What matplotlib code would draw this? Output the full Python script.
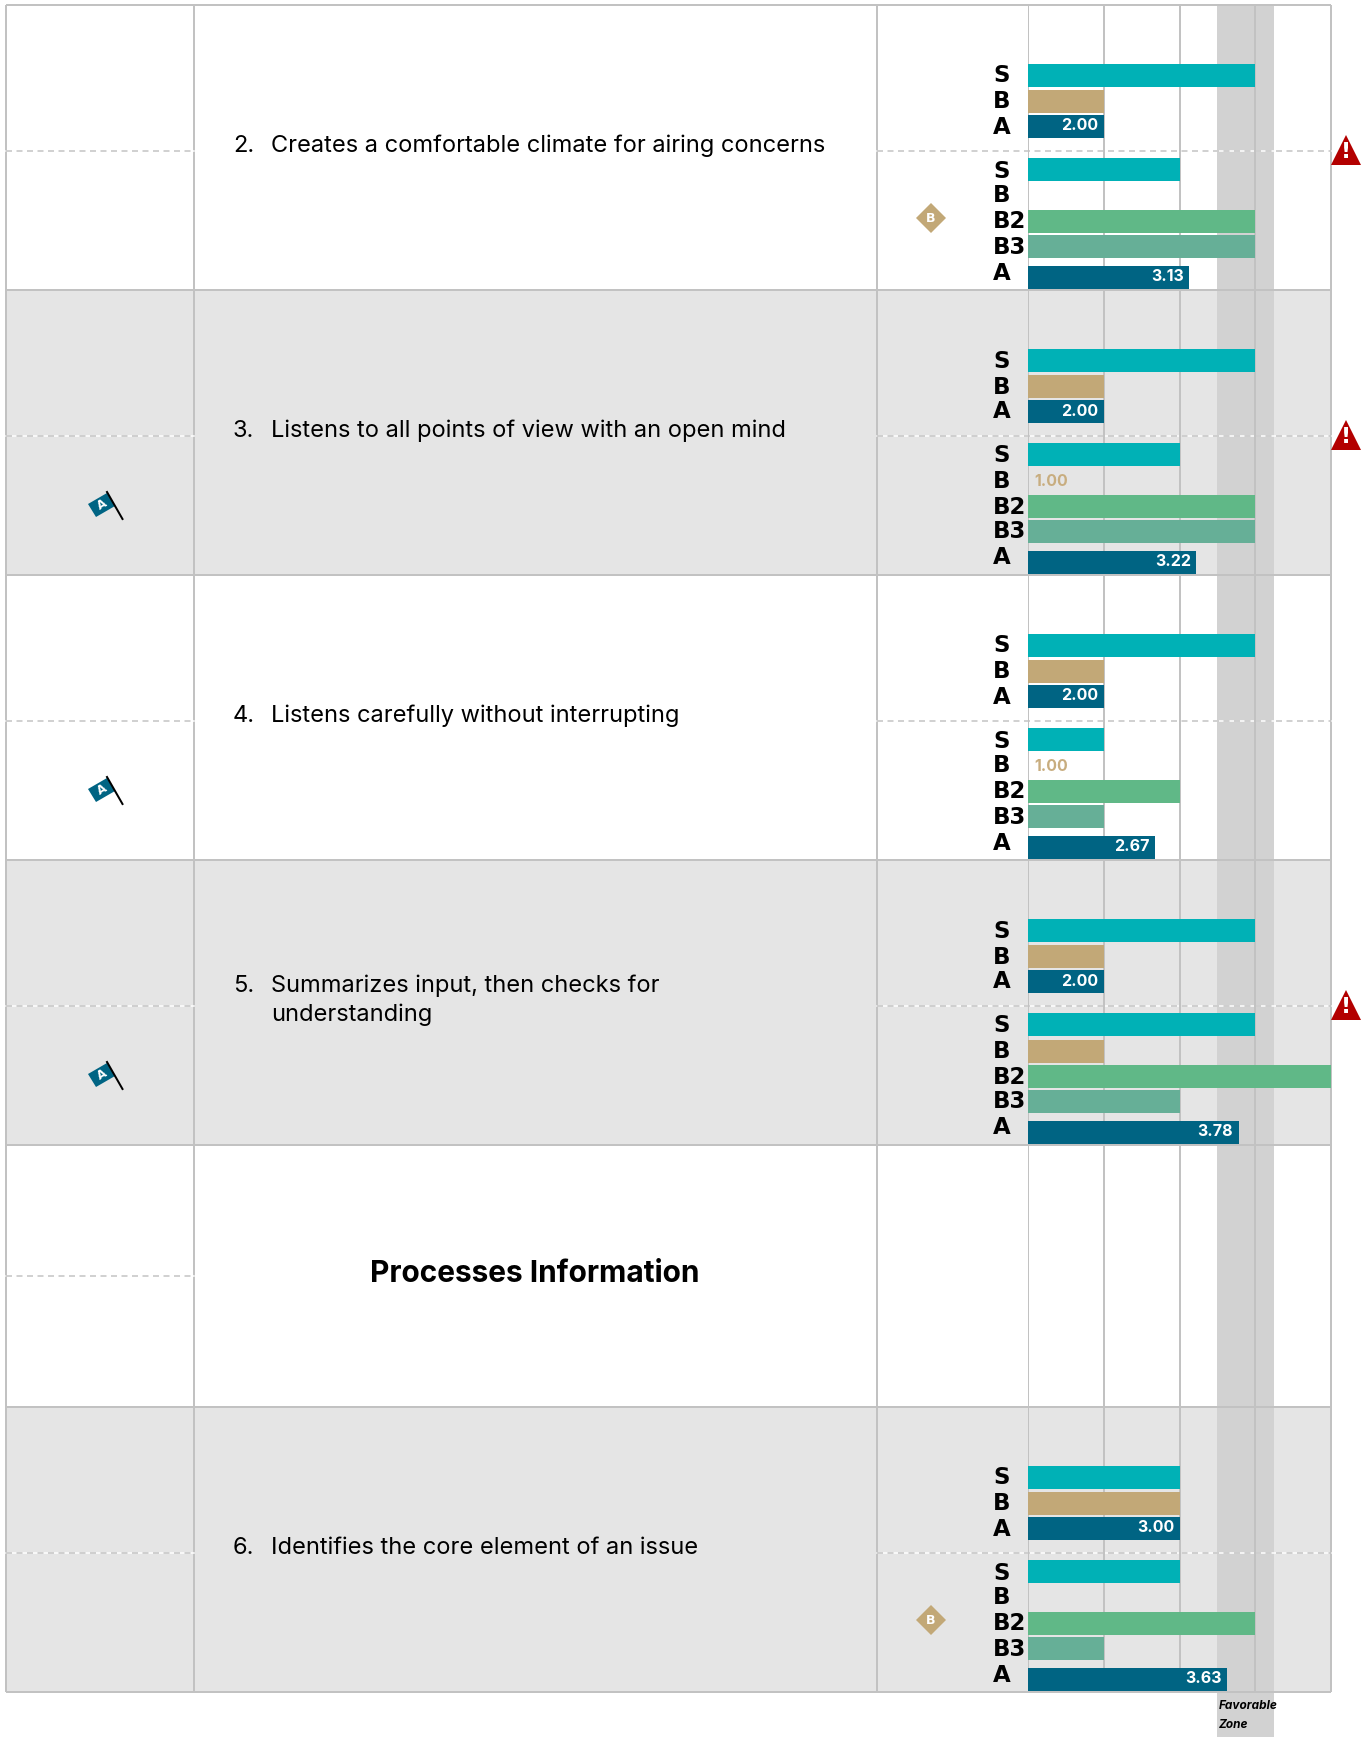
import matplotlib
matplotlib.use('Agg')
import matplotlib.pyplot as plt
from matplotlib.patches import Polygon

# scores per item, None = no bar
items = ["Creates a comfortable climate for airing concerns",
         "Listens to all points of view with an open mind",
         "Listens carefully without interrupting",
         "Summarizes input, then checks for\nunderstanding",
         "Identifies the core element of an issue"]
numbers = ["2.", "3.", "4.", "5.", "6."]
group_labels = ["S", "B", "A", "S", "B", "B2", "B3", "A"]
self_top = [4, 4, 4, 4, 3]
boss_top = [2, 2, 2, 2, 3]
avg_top = [2.00, 2.00, 2.00, 2.00, 3.00]
self_low = [3, 3, 2, 4, 3]
boss_low = [None, 1.00, 1.00, 2, None]
boss2_low = [4, 4, 3, 5, 4]
boss3_low = [4, 4, 2, 3, 2]
avg_low = [3.13, 3.22, 2.67, 3.78, 3.63]
warning = [True, True, False, True, False]
flag = [False, True, True, True, False]
diamond = [True, False, False, False, True]
section_title = "Processes Information"

W, H = 1368, 1737
LINE = '#c2c2c2'
GREY = '#e5e5e5'
ZONE = '#d2d2d2'
C_S, C_B, C_B2, C_B3, C_A = '#00b1b6', '#c2a877', '#60b887', '#66af97', '#006483'
TXT = 'Inter'
px = 0.72  # one pixel in points at dpi 100

row_tops = [5, 290, 575, 860, 1407]
row_bots = [289, 574, 859, 1144, 1691]
bar_off = [-213.5, -187.5, -162.5, -119.5, -93, -67.5, -42.5, -12]
lab_off = [-213, -187, -162, -118, -93, -67, -42, -16]

fig = plt.figure(figsize=(W / 100, H / 100), dpi=100)
bg = fig.add_axes([0, 0, 1, 1])
bg.set_xlim(0, W)
bg.set_ylim(H, 0)
bg.axis('off')

# table background
for y0, y1 in [(290, 575), (860, 1145), (1407, 1692)]:
    bg.fill_between([6, 1331], y0, y1, color=GREY, lw=0, zorder=1)
bg.fill_between([1217, 1274], 5, H, color=ZONE, lw=0, zorder=2)

for y in [5, 290, 575, 860, 1145, 1407, 1692]:
    bg.plot([6, 1331], [y, y], color=LINE, lw=2 * px, zorder=3, solid_capstyle='butt')
for x in [6, 194, 877, 1331]:
    bg.plot([x, x], [5, 1692], color=LINE, lw=2 * px, zorder=3, solid_capstyle='butt')

# dashed mid lines
for y, x0, x1 in [(151, 6, 194), (151, 877, 1331), (436, 6, 194), (436, 877, 1331),
                  (721, 6, 194), (721, 877, 1331), (1006, 6, 194), (1006, 877, 1331),
                  (1276, 6, 194), (1553, 6, 194), (1553, 877, 1331)]:
    bg.plot([x0, x1], [y, y], color='white', lw=1.5 * px, zorder=3)
    bg.plot([x0, x1], [y, y], color=LINE, lw=1.5 * px, zorder=3, dashes=(4, 3))

# chart axes share the pixel y scale, x is the score
ax = fig.add_axes([1028 / W, 0, (1331 - 1028) / W, 1])
ax.set_xlim(1, 5)
ax.set_ylim(H, 0)
ax.axis('off')
ax.patch.set_alpha(0)
ax.vlines([1, 2, 3, 4, 5], 5, 1692, color=LINE, lw=2 * px, zorder=3)
ax.vlines([1, 2, 3, 4, 5][3], 1692, 1692, color=LINE)

colors = [C_S, C_B, C_A, C_S, C_B, C_B2, C_B3, C_A]
for i in range(len(items)):
    bot = row_bots[i]
    vals = [self_top[i], boss_top[i], avg_top[i], self_low[i], boss_low[i],
            boss2_low[i], boss3_low[i], avg_low[i]]
    for j, v in enumerate(vals):
        yc = bot + bar_off[j]
        bg.text(993, bot + lab_off[j], group_labels[j], fontsize=16.5, fontweight='bold',
                family='DejaVu Sans', va='center', ha='left', color='black', zorder=6)
        if v is None:
            continue
        if v == 1:
            ax.text(1.08, yc + 0.5, "%.2f" % v, color='#c8ad7f', fontsize=11.5,
                    fontweight='bold', family=TXT, va='center', ha='left', zorder=6)
            continue
        ax.barh(yc, v - 1, left=1, height=23, color=colors[j], lw=0, zorder=4)
        if j in (2, 7):
            ax.text(v - 0.07, yc - 0.5, "%.2f" % v, color='white', fontsize=11.5,
                    fontweight='bold', family=TXT, va='center', ha='right', zorder=6)

    # item text
    mid = (row_tops[i] + row_bots[i]) / 2
    ty = {0: 146, 1: 431, 2: 716, 3: 1000, 4: 1548}[i]
    if i == 3:
        bg.text(233, 986, numbers[i], fontsize=17, family=TXT, va='center', zorder=6)
        bg.text(271, 986, items[i].split("\n")[0], fontsize=17, family=TXT, va='center', zorder=6)
        bg.text(271, 1015, items[i].split("\n")[1], fontsize=17, family=TXT, va='center', zorder=6)
    else:
        bg.text(233, ty, numbers[i], fontsize=17, family=TXT, va='center', zorder=6)
        bg.text(271, ty, items[i], fontsize=17, family=TXT, va='center', zorder=6)

    if warning[i]:
        yw = row_tops[i] + 146
        bg.add_patch(Polygon([(1331, yw + 14), (1346, yw - 16), (1361, yw + 14)],
                             fc='#b30000', ec='none', zorder=7, clip_on=False))
        bg.text(1346, yw + 1, "!", color='white', fontsize=16, fontweight='bold',
                family='DejaVu Sans', ha='center', va='center', zorder=8)
    if flag[i]:
        yf = row_tops[i] + 214
        bg.add_patch(Polygon([(88, yf), (107, yf - 11), (115, yf + 2), (96, yf + 13)],
                             fc=C_A, ec='none', zorder=7))
        bg.plot([107, 122.5], [yf - 12, yf + 15], color='black', lw=2 * px, zorder=8)
        bg.text(102, yf + 1, "A", color='white', fontsize=8.5, fontweight='bold', rotation=30,
                family='DejaVu Sans', ha='center', va='center', zorder=8)
    if diamond[i]:
        yd = bot - 71
        bg.add_patch(Polygon([(916, yd), (931, yd - 15), (946, yd), (931, yd + 15)],
                             fc=C_B, ec='none', zorder=7))
        bg.text(931, yd, "B", color='white', fontsize=9, fontweight='bold',
                family='DejaVu Sans', ha='center', va='center', zorder=8)

bg.text(535, 1274, section_title, fontsize=21.5, fontweight='bold', family=TXT,
        ha='center', va='center', zorder=6)
bg.text(1219, 1706, "Favorable", fontsize=8.5, fontweight='bold', style='italic',
        family=TXT, va='center', zorder=6)
bg.text(1219, 1725, "Zone", fontsize=8.5, fontweight='bold', style='italic',
        family=TXT, va='center', zorder=6)

fig.savefig('out.png', dpi=100)
